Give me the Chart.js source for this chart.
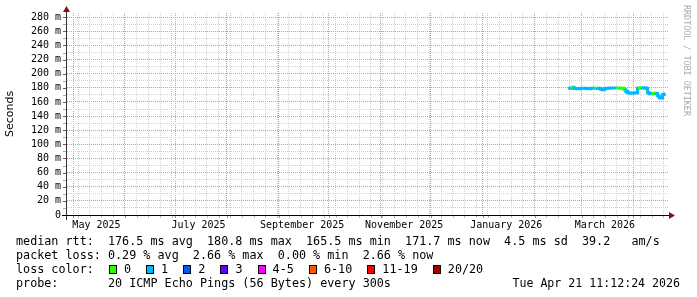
<!DOCTYPE html>
<html><head><meta charset="utf-8">
<script src="https://cdn.jsdelivr.net/npm/chart.js@4.4.0/dist/chart.umd.min.js"></script>
<style>
html,body{margin:0;padding:0;background:#fff;}
#wrap{position:relative;width:697px;height:297px;overflow:hidden;background:#fff;}
canvas{position:absolute;left:0;top:0;}
.leg{position:absolute;left:16px;font-family:"DejaVu Sans Mono",monospace;font-size:11.75px;line-height:14px;white-space:pre;color:#000;}
.box{display:inline-block;width:8px;height:9px;border:1px solid #000;box-sizing:border-box;vertical-align:-1px;margin-left:1px;margin-right:calc(1ch - 7.2px);}
#wm{position:absolute;left:682px;top:5px;writing-mode:vertical-rl;font-family:"DejaVu Sans Mono",monospace;font-size:8.4px;line-height:9px;color:#aaa;white-space:pre;}
#stamp{position:absolute;right:17px;font-family:"DejaVu Sans Mono",monospace;font-size:11.6px;line-height:14px;white-space:pre;color:#000;}
</style>
</head><body>
<div id="wrap">
<canvas id="c" width="697" height="297"></canvas>
<div id="wm">RRDTOOL / TOBI OETIKER</div>
<div class="leg" id="l1" style="top:234px"></div>
<div class="leg" id="l2" style="top:248px"></div>
<div class="leg" id="l3" style="top:262px"></div>
<div class="leg" id="l4" style="top:276px"></div>
<div id="stamp" style="top:276px"></div>
</div>
<script>
// ---- data (day 0 = 1 May 2025) ----
const firstDay = 296; // 21 Feb 2026
const rtt = [
 179.5,179.5,179.8,180.8,179.2,179.0,178.8,178.9,179.3,179.5,
 179.6,179.2,178.6,178.8,179.4,179.5,179.4,179.6,179.3,179.0,
 178.2,177.4,178.9,179.4,179.6,179.8,179.8,179.7,179.8,179.8,
 179.9,179.8,179.6,179.3,177.2,175.0,173.0,172.6,172.5,172.6,
 172.8,173.0,179.6,179.9,180.2,179.9,180.0,179.2,173.0,171.8,
 171.6,171.9,172.3,172.0,168.5,166.0,165.5,170.5,171.7
];
const lossIdx = [
 1,1,1,0,1,1,1,1,1,1,
 1,1,1,1,1,1,1,0,1,1,
 1,1,1,1,1,1,1,1,1,1,
 0,0,0,0,0,1,1,1,1,1,
 1,1,1,0,0,1,1,1,1,1,
 1,0,0,1,1,1,1,1,1
];
const lossLabels = ['0','1','2','3','4-5','6-10','11-19','20/20'];
const lossColors = ['#26ff00','#00b8ff','#0059ff','#5e00ff','#ff00ff','#ff5500','#ff0000','#a10000'];
const monthLabels = ['May 2025','July 2025','September 2025','November 2025','January 2026','March 2026'];
const monthLabelDates = ['2025-05-15','2025-07-15','2025-09-15','2025-11-15','2026-01-15','2026-03-15'];
const monthStarts = ['2025-05-01','2025-06-01','2025-07-01','2025-08-01','2025-09-01','2025-10-01','2025-11-01','2025-12-01','2026-01-01','2026-02-01','2026-03-01','2026-04-01'];
const firstSunday = '2025-05-04';
const yTickValues = [0,10,20,30,40,50,60,70,80,90,100,110,120,130,140,150,160,170,180,190,200,210,220,230,240,250,260,270,280];
const statsLine1 = 'median rtt:  176.5 ms avg  180.8 ms max  165.5 ms min  171.7 ms now  4.5 ms sd  39.2   am/s';
const statsLine2 = 'packet loss: 0.29 % avg  2.66 % max  0.00 % min  2.66 % now';
const probeLine = 'probe:       20 ICMP Echo Pings (56 Bytes) every 300s';
const stampText = 'Tue Apr 21 11:12:24 2026';

// ---- helpers ----
const base = Date.UTC(2025,4,1);
const dayOf = s => { const [y,m,d] = s.split('-').map(Number); return (Date.UTC(y,m-1,d)-base)/864e5; };
const xMin = -3.6, xMax = 355.7;
const MAJOR = '#e89090', MINOR = '#d2d2d2';

const tickInfo = new Map();
const addTick = (v, k, lab) => { const t = tickInfo.get(v) || {}; t[k] = true; if (lab) t.label = lab; tickInfo.set(v, t); };
for (let d = dayOf(firstSunday); d < xMax; d += 7) addTick(d, 'week');
monthStarts.forEach(s => addTick(dayOf(s), 'month'));
monthLabelDates.forEach((s,i) => addTick(dayOf(s), 'lab', monthLabels[i]));
const xTickVals = [...tickInfo.keys()].sort((a,b)=>a-b);

const points = rtt.map((v,i) => ({x: firstDay + i, y: v}));

const rrdAxes = {
  id: 'rrdAxes',
  afterDraw(chart) {
    const {ctx, chartArea: a, scales: {x, y}} = chart;
    ctx.save();
    ctx.lineWidth = 1;
    yTickValues.forEach(v => {
      if (v === 0) return;
      const py = Math.round(y.getPixelForValue(v)) + 0.5;
      ctx.strokeStyle = v % 20 === 0 ? '#8a4a4a' : '#aaa';
      ctx.beginPath(); ctx.moveTo(a.left - 4, py); ctx.lineTo(a.left, py); ctx.stroke();
    });
    xTickVals.forEach(v => {
      const t = tickInfo.get(v);
      if (!t.month && !t.week) return;
      const px = Math.round(x.getPixelForValue(v)) + 0.5;
      ctx.strokeStyle = t.month ? '#e07070' : '#bbb';
      ctx.beginPath(); ctx.moveTo(px, a.bottom); ctx.lineTo(px, a.bottom + 3); ctx.stroke();
    });
    ctx.strokeStyle = '#333';
    ctx.beginPath(); ctx.moveTo(a.left - 0.5, a.bottom + 5); ctx.lineTo(a.left - 0.5, a.top - 1); ctx.stroke();
    ctx.strokeStyle = '#000';
    ctx.beginPath(); ctx.moveTo(a.left - 5, a.bottom + 0.5); ctx.lineTo(a.right + 1, a.bottom + 0.5); ctx.stroke();
    ctx.fillStyle = '#8a1010';
    ctx.beginPath(); ctx.moveTo(a.left - 4, a.top - 1); ctx.lineTo(a.left + 3, a.top - 1); ctx.lineTo(a.left - 0.5, a.top - 7); ctx.closePath(); ctx.fill();
    ctx.beginPath(); ctx.moveTo(a.right + 1, a.bottom - 3); ctx.lineTo(a.right + 1, a.bottom + 4); ctx.lineTo(a.right + 7, a.bottom + 0.5); ctx.closePath(); ctx.fill();
    ctx.restore();
  }
};

new Chart(document.getElementById('c'), {
  type: 'line',
  data: { datasets: [{
    data: points,
    borderWidth: 3,
    pointRadius: 0,
    stepped: 'middle',
    borderCapStyle: 'butt',
    borderColor: lossColors[1],
    segment: { borderColor: c => lossColors[lossIdx[c.p1DataIndex]] },
    fill: false
  }]},
  options: {
    responsive: false,
    animation: false,
    devicePixelRatio: 1,
    layout: { padding: { top: 13, right: 29, left: 0, bottom: 0 } },
    plugins: { legend: { display: false }, tooltip: { enabled: false } },
    scales: {
      x: {
        type: 'linear', min: xMin, max: xMax,
        afterBuildTicks: s => { s.ticks = xTickVals.map(v => ({value: v})); },
        afterFit: s => { s.height = 82; },
        ticks: {
          autoSkip: false, maxRotation: 0, minRotation: 0, padding: 4,
          font: { family: 'DejaVu Sans Mono', size: 10 }, color: '#000',
          callback: v => (tickInfo.get(v) && tickInfo.get(v).label) || ''
        },
        grid: {
          drawTicks: false,
          color: c => { const t = tickInfo.get(c.tick.value) || {}; return t.month ? MAJOR : (t.week ? MINOR : 'rgba(0,0,0,0)'); }
        },
        border: { display: false, dash: [1,1] }
      },
      y: {
        min: 0, max: 286,
        afterBuildTicks: s => { s.ticks = yTickValues.map(v => ({value: v})); },
        afterFit: s => { s.width = 67; },
        ticks: {
          autoSkip: false, padding: 6,
          font: { family: 'DejaVu Sans Mono', size: 10 }, color: '#000',
          callback: v => v % 20 === 0 ? (v === 0 ? '0' : v + ' m') : ''
        },
        grid: {
          drawTicks: false,
          color: c => c.tick.value === 0 ? 'rgba(0,0,0,0)' : (c.tick.value % 20 === 0 ? MAJOR : MINOR)
        },
        border: { display: false, dash: [1,1] },
        title: { display: true, text: 'Seconds', color: '#000', font: { family: 'DejaVu Sans', size: 11 }, padding: { top: 4, bottom: 0 } }
      }
    }
  },
  plugins: [rrdAxes]
});

document.getElementById('l1').textContent = statsLine1;
document.getElementById('l2').textContent = statsLine2;
document.getElementById('l4').textContent = probeLine;
document.getElementById('stamp').textContent = stampText;
const l3 = document.getElementById('l3');
l3.appendChild(document.createTextNode('loss color:  '));
lossLabels.forEach((lab, i) => {
  const b = document.createElement('span');
  b.className = 'box'; b.style.background = lossColors[i];
  l3.appendChild(b);
  l3.appendChild(document.createTextNode(' ' + lab + (i < lossLabels.length - 1 ? '  ' : '')));
});
</script>
</body></html>
